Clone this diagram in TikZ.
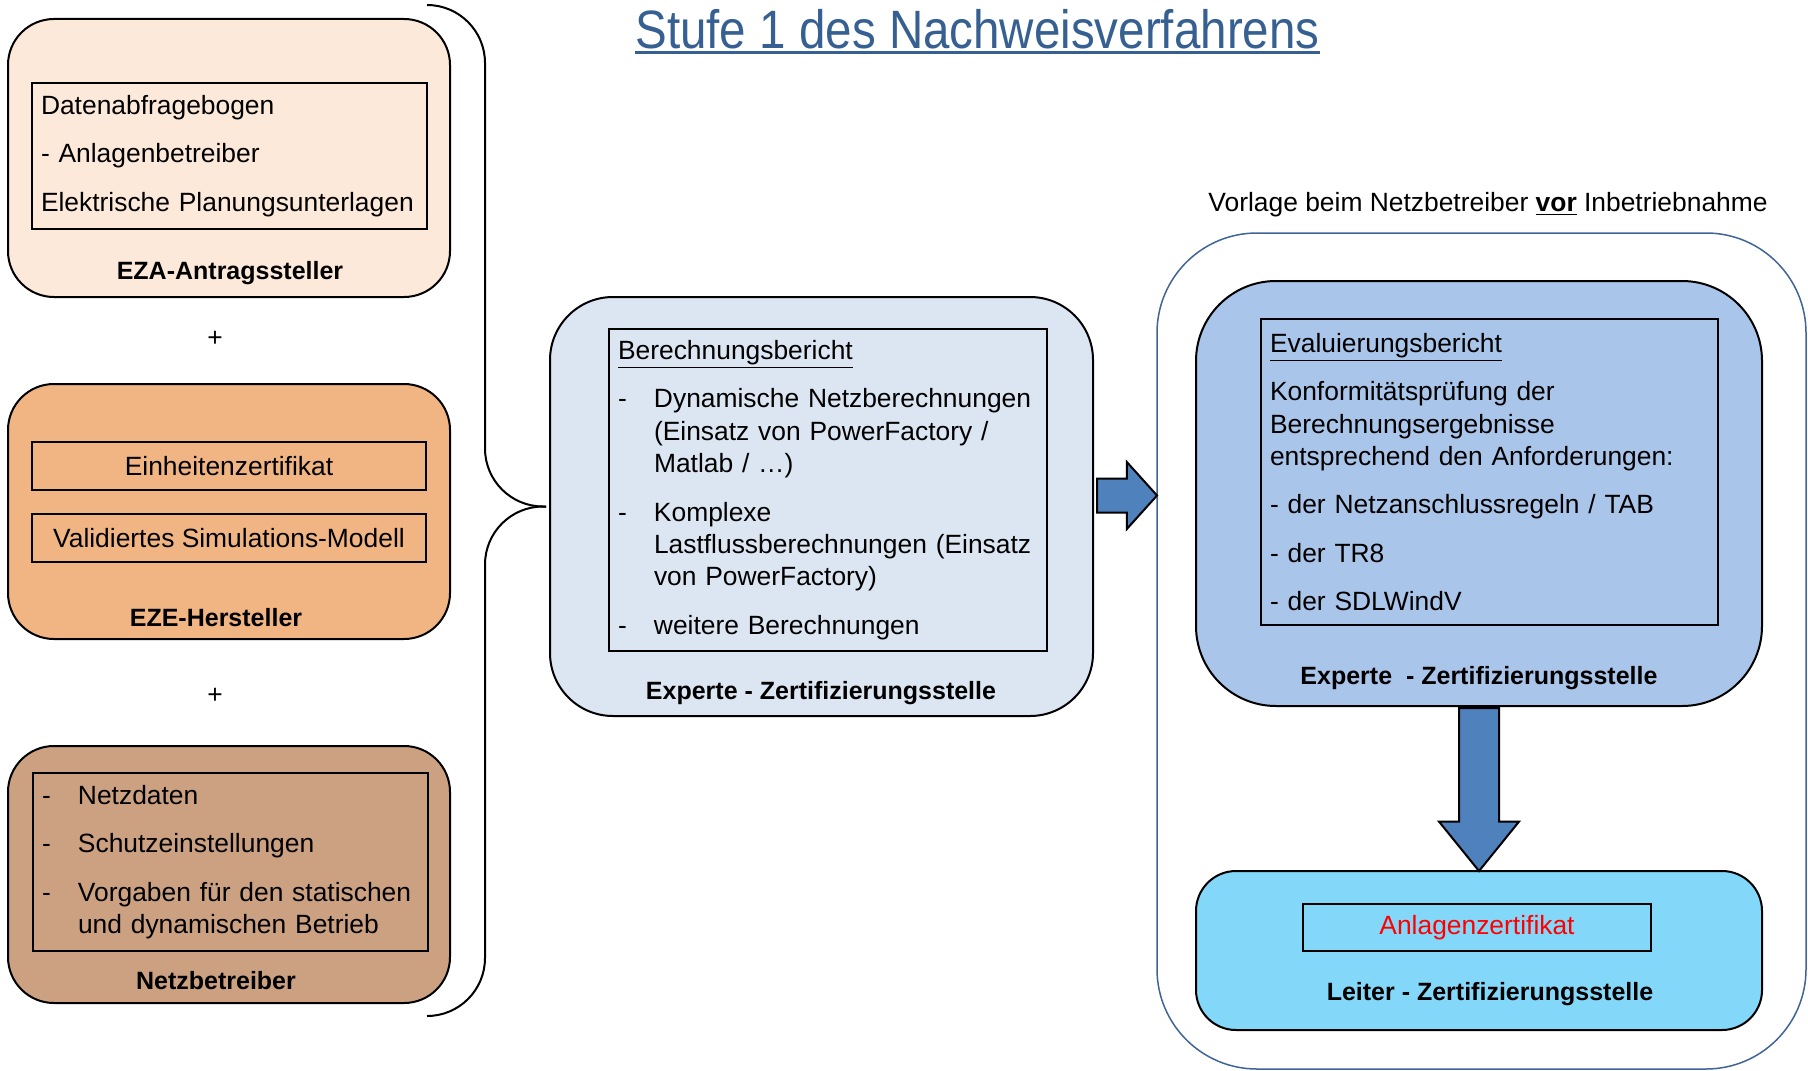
\documentclass[tikz,border=0pt]{standalone}
\usepackage{fontspec}
\setmainfont{Liberation Sans}
\newfontfamily\titlefont[FakeStretch=0.88]{Liberation Sans}
\usetikzlibrary{positioning, shapes.arrows}

\definecolor{ezaFill}{RGB}{253,233,217}
\definecolor{ezeFill}{RGB}{241,181,131}
\definecolor{netzFill}{RGB}{204,161,130}
\definecolor{calcFill}{RGB}{220,230,242}
\definecolor{evalFill}{RGB}{170,197,234}
\definecolor{certFill}{RGB}{131,215,248}
\definecolor{arrowBlue}{RGB}{79,129,189}
\definecolor{titleBlue}{RGB}{54,96,146}
\definecolor{frameBlue}{RGB}{65,100,150}

\newcommand{\dashitem}{\makebox[18pt][l]{-}}
\newcommand{\dashgap}{\hspace*{18pt}}

\tikzset{
  party/.style = {
    draw,
    line width=1pt,
    inner sep=0pt,
  },
  inbox/.style = {
    draw,
    line width=0.8pt,
    inner xsep=4.5pt,
    inner ysep=0pt,
    align=left,
    font=\fontsize{13.2}{16.2}\selectfont,
  },
  tag/.style = {
    draw,
    line width=0.8pt,
    inner sep=0pt,
    align=center,
    font=\fontsize{13.2}{16.2}\selectfont,
  },
  role/.style = {
    font=\fontsize{12.5}{15}\selectfont\bfseries,
  },
  blockArrow/.style = {
    draw,
    line width=1pt,
    fill=arrowBlue,
    single arrow,
    inner xsep=0pt,
  },
}

\begin{document}
\begin{tikzpicture}[
  x=0.5pt, y=-0.5pt,
  brace/.style = {
    line width=1pt,
    rounded corners=29pt,
  },
  plain/.style = {
    font=\fontsize{13.2}{16.2}\selectfont,
  },
]
\path[use as bounding box, fill=white] (0,0) rectangle (1808,1070);

\node[anchor=base, inner sep=0pt, text=titleBlue, font=\titlefont\fontsize{27}{32}\selectfont] (title) at (977.5,49) {Stufe 1 des Nachweisverfahrens};
\draw[titleBlue, line width=1.5pt] ([yshift=-2pt]title.base west) -- ([yshift=-2pt]title.base east);

% left column
\node[party, fill=ezaFill, rounded corners=23pt, minimum width=221pt, minimum height=139pt] (ezaBox) at (229,158) {};
\node[inbox, text width=188.5pt, minimum height=73pt] (ezaList) at (229.5,156) {Datenabfragebogen\\[8pt]- Anlagenbetreiber\\[8pt]Elektrische Planungsunterlagen};
\node[role] (ezaRole) at (230,273) {EZA-Antragssteller};

\node[plain] (plusA) at (215,339) {+};

\node[party, fill=ezeFill, rounded corners=23pt, minimum width=221pt, minimum height=127.5pt] (ezeBox) at (229,511.5) {};
\node[tag, minimum width=197pt, minimum height=24pt] (unitCert) at (229,466) {Einheitenzertifikat};
\node[tag, minimum width=197pt, minimum height=24pt] (simModel) at (229,538) {Validiertes Simulations-Modell};
\node[role] (ezeRole) at (216,618) {EZE-Hersteller};

\node[plain] (plusB) at (215,696) {+};

\node[party, fill=netzFill, rounded corners=23pt, minimum width=221pt, minimum height=128.5pt] (netzBox) at (229,874.5) {};
\node[inbox, text width=188.5pt, minimum height=89pt] (netzList) at (230.5,862) {\dashitem Netzdaten\\[8pt]\dashitem Schutzeinstellungen\\[8pt]\dashitem Vorgaben für den statischen\\\dashgap und dynamischen Betrieb};
\node[role] (netzRole) at (216,981) {Netzbetreiber};

% middle
\node[party, fill=calcFill, rounded corners=31.5pt, minimum width=271.5pt, minimum height=209.5pt] (calcBox) at (821.5,506.5) {};
\node[inbox, text width=210pt, minimum height=161pt] (calcList) at (828,490) {\underline{Berechnungsbericht}\\[8pt]
  \dashitem Dynamische Netzberechnungen\\
  \dashgap (Einsatz von PowerFactory /\\
  \dashgap Matlab / …)\\[8pt]
  \dashitem Komplexe\\
  \dashgap Lastflussberechnungen (Einsatz\\
  \dashgap von PowerFactory)\\[8pt]
  \dashitem weitere Berechnungen};
\node[role] (calcRole) at (821,693) {Experte - Zertifizierungsstelle};

\coordinate (braceTop) at (427,5);
\coordinate (braceBottom) at (427,1016);
\coordinate (braceTip) at ([xshift=-1.5pt]calcBox.west);
\draw[brace] (braceTop) -| ([xshift=-30.5pt]braceTip) -- (braceTip);
\draw[brace] (braceTip) -- ([xshift=-30.5pt]braceTip) |- (braceBottom);

% right column
\node[draw=frameBlue, line width=0.75pt, rounded corners=50pt, minimum width=324.5pt, minimum height=418pt, inner sep=0pt] (frame) at (1481.5,651) {};
\node[plain] (frameNote) at (1488,205) {Vorlage beim Netzbetreiber \textbf{\underline{vor}} Inbetriebnahme};

\node[party, fill=evalFill, rounded corners=40pt, minimum width=283pt, minimum height=212.5pt] (evalBox) at (1479,493.5) {};
\node[inbox, text width=219.5pt, minimum height=153pt] (evalList) at (1489.5,472) {\underline{Evaluierungsbericht}\\[8pt]
  Konformitätsprüfung der\\
  Berechnungsergebnisse\\
  entsprechend den Anforderungen:\\[8pt]
  - der Netzanschlussregeln / TAB\\[8pt]
  - der TR8\\[8pt]
  - der SDLWindV};
\node[role] (evalRole) at (1479,678) {Experte\ \ - Zertifizierungsstelle};

\node[party, fill=certFill, rounded corners=20pt, minimum width=283pt, minimum height=79.5pt] (certBox) at (1479,950.5) {};
\node[tag, minimum width=174pt, minimum height=23.5pt, text=red] (plantCert) at (1477,927.5) {Anlagenzertifikat};
\node[role] (certRole) at (1490,994) {Leiter - Zertifizierungsstelle};

% block arrows
\node[blockArrow, inner ysep=8pt, minimum height=30pt, single arrow head extend=8.25pt, single arrow tip angle=96, anchor=tail] (calcArrow) at (1096,495.5) {};
\node[blockArrow, rotate=-90, inner ysep=9.5pt, minimum height=81.5pt, single arrow head extend=10pt, single arrow tip angle=78, anchor=tail] (evalArrow) at (evalBox.south) {};

\end{tikzpicture}
\end{document}
